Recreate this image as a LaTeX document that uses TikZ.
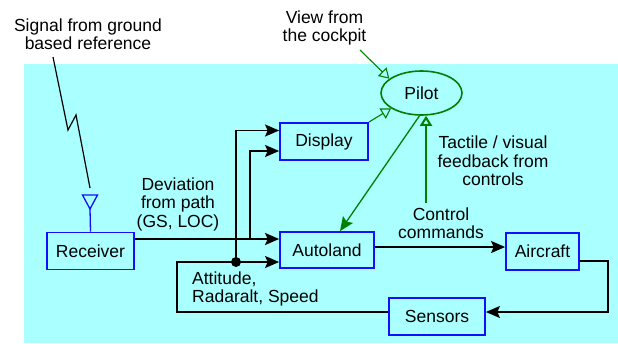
\documentclass[tikz,border=0pt]{standalone}
\usepackage{fontspec}
\setmainfont{Liberation Sans}
\usepackage{tikz}
\usetikzlibrary{arrows.meta,shapes.geometric}

\definecolor{bgcyan}{HTML}{AAFFFF}
\definecolor{boxblue}{HTML}{1010FF}
\definecolor{pilotgreen}{HTML}{008000}

\begin{document}
\begin{tikzpicture}[x=1pt,y=-1pt,
  font=\fontsize{17.5}{18.5}\selectfont,
  blk/.style={draw=boxblue, line width=1.8pt, fill=bgcyan, inner sep=0pt},
  txt/.style={align=center, inner sep=0pt},
  sig/.style={line width=1.4pt, -{Stealth[length=14pt,width=12pt,inset=2.5pt]}},
  main/.style={line width=2pt, -{Stealth[length=14pt,width=12pt,inset=2.5pt]}},
  seen/.style={draw=pilotgreen, line width=1.1pt, -{Triangle[open,length=10pt,width=12pt]}}]

\useasboundingbox (0,0) rectangle (618,343);
\fill[bgcyan] (24,64) rectangle (618,343);

% Boxes
\node[blk, minimum width=87pt, minimum height=37pt] (rec) at (90.5,251) {Receiver};
\node[blk, minimum width=88pt, minimum height=37pt] (disp) at (324,141.5) {Display};
\node[blk, minimum width=94pt, minimum height=36pt] (auto) at (327,250) {Autoland};
\node[blk, minimum width=73pt, minimum height=37pt] (air) at (542.5,251.5) {Aircraft};
\node[blk, minimum width=96pt, minimum height=37pt] (sens) at (437,316.5) {Sensors};
\node[ellipse, draw=pilotgreen, line width=1.6pt, minimum width=81pt, minimum height=44pt, inner sep=0pt] (pilot) at (421.5,93) {Pilot};

% Labels
\node[txt] (sigtxt) at (88,34) {Signal from ground\\based reference};
\node[txt] (view) at (324.5,28) {View from\\the cockpit};
\node[txt] (tact) at (493,161) {Tactile / visual\\feedback from\\controls};
\node[txt] (ctrl) at (441,223) {Control\\commands};
\node[txt] (dev) at (178,204) {Deviation\\from path\\(GS, LOC)};
\node[txt, align=left, anchor=west] (att) at (192,289) {Attitude,\\Radaralt, Speed};

% Antenna and radio signal
\coordinate (ant) at (90,195);
\draw[boxblue, line width=1.3pt] (82.5,195) -- (97.5,195) -- (90,209) -- cycle;
\draw[boxblue, line width=1.3pt] (90,209) -- (rec.north);
\draw[line width=1.2pt] (53,57) -- (68,130) -- (76,115) -- (90,188);

% Deviation to autoland and display
\coordinate (a1) at ([yshift=11pt]auto.west);
\coordinate (a2) at ([yshift=-12pt]auto.west);
\coordinate (d1) at ([yshift=11pt]disp.west);
\coordinate (d2) at ([yshift=-9.5pt]disp.west);
\coordinate (j) at (250,239);
\coordinate (dot) at (236,262);
\draw[main] (rec.east |- a1) -- (a1);
\draw[sig] (j) |- (d2);
\draw[sig] (dot) |- (d1);
\draw[sig] (dot) -- (a2);
\fill (dot) circle (5pt);

% Control loop
\coordinate (c1) at ([yshift=3pt]auto.east);
\draw[main] (c1) -- (air.west |- c1);
\draw[sig] ([yshift=-9.5pt]air.east) -- (608,261) |- ([yshift=4.5pt]sens.east);
\draw[line width=1.4pt] ([yshift=4.5pt]sens.west) -| (177,262) -- (dot);

% Pilot
\coordinate (v) at (360,50);
\coordinate (fb) at (426,203);
\draw[seen] (v) -- (pilot.156);
\draw[seen] (disp.north east) -- (pilot.207);
\draw[seen, line width=2pt] (fb) -- (fb |- pilot.south);
\draw[pilotgreen, line width=1.3pt, -{Stealth[length=14pt,width=12pt,inset=2.5pt]}] (pilot.265) -- ([xshift=13pt]auto.north);

\end{tikzpicture}
\end{document}
